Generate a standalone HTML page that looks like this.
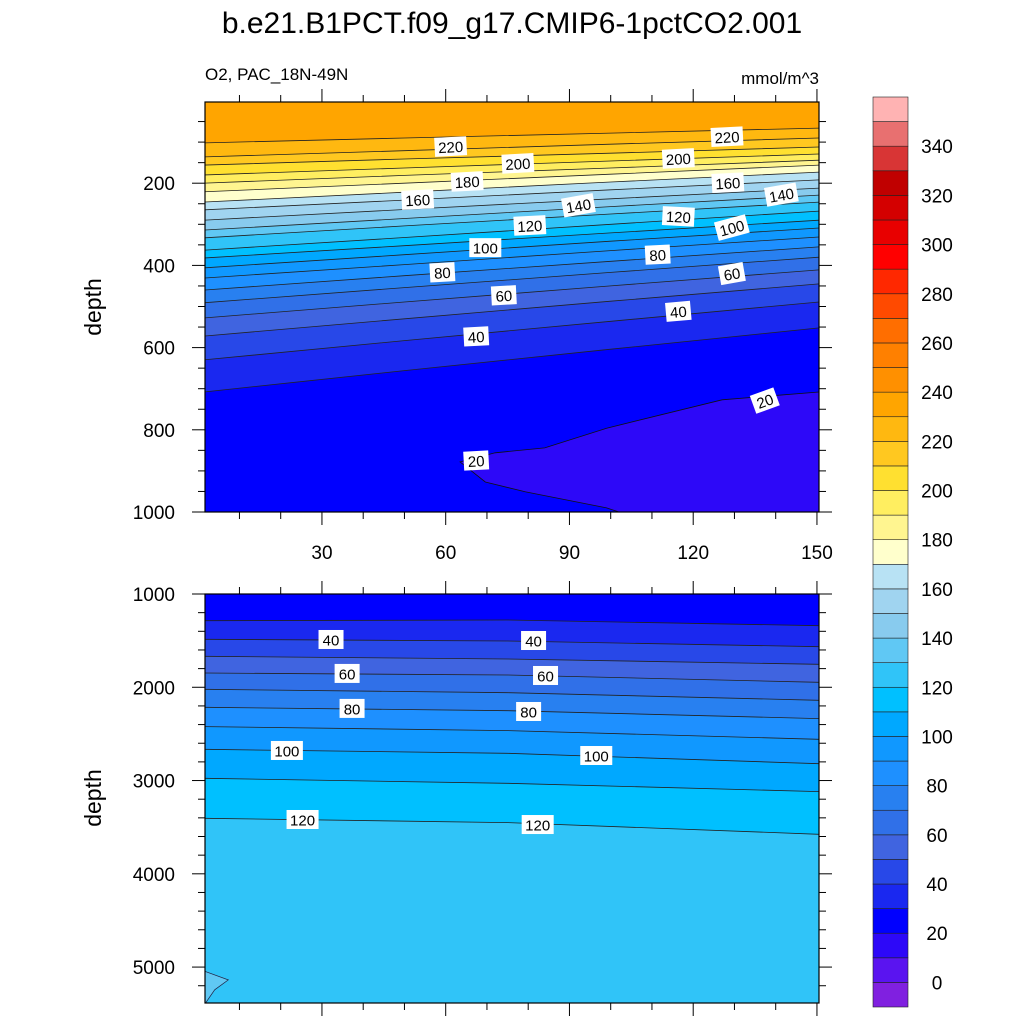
<!DOCTYPE html>
<html><head><meta charset="utf-8"><style>
html,body{margin:0;padding:0;background:#fff;}
svg{display:block;font-family:"Liberation Sans",sans-serif;}
</style></head><body>
<svg id="chart" width="1024" height="1024" viewBox="0 0 1024 1024" xmlns="http://www.w3.org/2000/svg">
<text x="512" y="33" font-size="30" text-anchor="middle">b.e21.B1PCT.f09_g17.CMIP6-1pctCO2.001</text>
<text x="205" y="80" font-size="17">O2, PAC_18N-49N</text>
<text x="819" y="84" font-size="17" text-anchor="end">mmol/m^3</text>
<text transform="translate(101,307) rotate(-90)" font-size="23" text-anchor="middle">depth</text>
<text transform="translate(101,798) rotate(-90)" font-size="23" text-anchor="middle">depth</text>
<g id="topPanel"></g>
<g id="botPanel"></g>
<g id="cbar"></g>
</svg>
<script>
// ---- data ----
const bandLevels = [-10,0,10,20,30,40,50,60,70,80,90,100,110,120,130,140,150,160,170,180,190,200,210,220,230,240,250,260,270,280,290,300,310,320,330,340,350];
const bandColors = ["#8020e0","#5a14f0","#2d08f8","#0000ff","#1a28f0","#2848e8","#4064e0","#3070e8","#2880f0","#1e90ff","#1098ff","#00a8ff","#00c0ff","#30c4f8","#60c8f4","#88cbee","#a0d4f0","#b8e2f4","#ffffcc","#fff590","#ffee60","#ffe030","#ffc820","#ffb810","#ffa500","#ff9000","#ff8000","#ff6e00","#ff4a00","#ff2800","#ff0000","#e80000","#d40000","#c00000","#d83535","#e87070","#ffb3b3"];
const cbarTicks = [0,20,40,60,80,100,120,140,160,180,200,220,240,260,280,300,320,340];

const topX = [1.3, 50, 100, 150.5];
const topLevels = [30,40,50,60,70,80,90,100,110,120,130,140,150,160,170,180,190,200,210,220,230];
const topDepths = [
 [708,656,604,552],[630,583,536,489],[572,530,487,445],[528,489,450,411],[491,454,417,380],
 [460,425,390,355],[431,398,364,331],[406,374,341,309],[382,352,321,290],[363,332,300,268],
 [333,304,275,246],[314,286,257,229],[290,264,238,212],[265,241,216,192],[246,222,197,173],
 [221,200,178,156],[200,181,163,144],[180,163,146,129],[156,141,127,112],[136,121,105,90],
 [102,90,78,66]];
const lowRegionX = [150.5,127,99,84,72,63.5,69.6,79.4,99,102,150.5];
const lowRegionD = [708,727,796,844,856,878,927,951,990,1000,1000];
const topLabelVals = [220,200,180,160,140,120,100,80,60,40,20,220,200,160,140,120,100,80,60,40,20];
const topLabelX = [61.2,77.5,65.2,53.2,92.2,80.4,69.6,59.2,74.1,67.4,67.4,128.2,116.4,128.4,141.4,116.4,129.4,111.4,129.4,116.4,137.4];
const topLabelD = [112,153,197,241,255,304,358,418,474,574,876,88,141,200,229,282,309,375,421,513,730];
const topLabelRot = [-3,-3,-3,-3,-10,-3,0,-3,-3,-3,-3,-3,-3,-3,-10,3,-15,-3,-10,-5,-20];
const topYTicks = [200,400,600,800,1000];
const xTicks = [30,60,90,120,150];

const botX = [1.3, 75, 150.5];
const botLevels = [120,110,100,90,80,70,60,50,40,30];
const botDepths = [[3405,3451,3576],[2976,3030,3119],[2665,2708,2819],[2422,2465,2558],[2215,2251,2336],
 [2022,2058,2140],[1847,1868,1947],[1668,1697,1754],[1486,1504,1565],[1286,1279,1340]];
const cornerX = [1.3,7.3,4.0,1.8,1.3];
const cornerD = [5041,5137,5244,5385,5385];
const botLabelVals = [40,40,60,60,80,80,100,100,120,120];
const botLabelX = [32.2,81.3,36.1,84.2,37.3,80.1,21.5,96.5,25.3,82.3];
const botLabelD = [1493,1504,1857,1879,2232,2265,2683,2737,3423,3477];
const botYTicks = [1000,2000,3000,4000,5000];

// ---- helpers ----
const NS="http://www.w3.org/2000/svg";
function mk(tag, attrs, parent){const e=document.createElementNS(NS,tag);for(const k in attrs)e.setAttribute(k,attrs[k]);parent.appendChild(e);return e;}
function colorFor(lo){return bandColors[bandLevels.indexOf(lo)];}
const X0=205, X1=819;
const xs = v => 198.2 + 4.125*v;
const topY = d => 101 + d*0.411;
const botY = d => 594 + (d-1000)*0.09327;
const TY0=102, TY1=512, BY0=594, BY1=1003;

function panel(g, y0, y1, name){
  const cid = name+'-clip';
  const defs = mk('defs',{},g);
  const cp = mk('clipPath',{id:cid},defs);
  mk('rect',{x:X0,y:y0,width:X1-X0,height:y1-y0},cp);
  return mk('g',{'clip-path':'url(#'+cid+')'},g);
}
function linePts(xArr, dArr, yfun){ return xArr.map((x,i)=>xs(x).toFixed(1)+','+yfun(dArr[i]).toFixed(1)); }

// ---- top panel ----
const topG=document.getElementById('topPanel');
const ti=panel(topG,TY0,TY1,'top');
let r=mk('rect',{x:X0,y:TY0,width:X1-X0,height:TY1-TY0,fill:colorFor(20)},ti);


topLevels.forEach((L,i)=>{
  const d=topDepths[i];
  const pts=linePts(topX,d,topY);
  const p=mk('polygon',{points:[(X0-5)+','+(TY0-5),(X0-5)+','+topY(d[0])].concat(pts).concat([(X1+5)+','+topY(d[d.length-1]),(X1+5)+','+(TY0-5)]).join(' '),fill:colorFor(L)},ti);
  
  
});
let lr=mk('polygon',{points:linePts(lowRegionX,lowRegionD,topY).join(' '),fill:colorFor(10),stroke:'#111','stroke-width':0.8},ti);


topLevels.forEach((L,i)=>{
  const d=topDepths[i];
  const l=mk('polyline',{points:[(X0-5)+','+topY(d[0])].concat(linePts(topX,d,topY)).concat([(X1+5)+','+topY(d[d.length-1])]).join(' '),fill:'none',stroke:'#222','stroke-width':0.8},ti);
  
  
});
topLabelVals.forEach((v,i)=>{
  const cx=xs(topLabelX[i]), cy=topY(topLabelD[i]);
  const w=v>=100?32:25;
  const g=mk('g',{transform:`translate(${cx},${cy}) rotate(${topLabelRot[i]})`},ti);
  
  
  mk('rect',{x:-w/2,y:-10,width:w,height:19,fill:'#fff'},g);
  const t=mk('text',{x:0,y:5.5,'font-size':15,'text-anchor':'middle'},g); t.textContent=v;
});
let fr=mk('rect',{x:X0,y:TY0,width:X1-X0,height:TY1-TY0,fill:'none',stroke:'#000','stroke-width':1.2},topG);



function axesTicks(g, y0, y1, yfun, majors, minorStep, dmin, dmax, labelsX){
  const tg=mk('g',{stroke:'#000','stroke-width':1},g);
  for(let v=10; v<=150; v+=10){
    const x=xs(v); if(x<X0||x>X1+1) continue;
    const len = (v%30===0)?13:7;
    mk('line',{x1:x,y1:y1,x2:x,y2:y1+len},tg);
    mk('line',{x1:x,y1:y0,x2:x,y2:y0-len},tg);
  }
  for(let d=Math.ceil(dmin/minorStep)*minorStep; d<=dmax; d+=minorStep){
    const y=yfun(d); if(y<y0-0.5||y>y1+0.5) continue;
    const len = majors.includes(d)?13:7;
    mk('line',{x1:X0,y1:y,x2:X0-len,y2:y},tg);
    mk('line',{x1:X1,y1:y,x2:X1+len,y2:y},tg);
  }
  majors.forEach(d=>{
    const t=mk('text',{x:175,y:yfun(d)+7,'font-size':19,'text-anchor':'end'},g);
    
    
    t.textContent=d;
  });
  if(labelsX){
    xTicks.forEach(v=>{
      const t=mk('text',{x:xs(v),y:y1+47,'font-size':19,'text-anchor':'middle'},g);
      
      
      t.textContent=v;
    });
  }
}
axesTicks(topG,TY0,TY1,topY,topYTicks,50,0,1000,true);

// ---- bottom panel ----
const botG=document.getElementById('botPanel');
const bi=panel(botG,BY0,BY1,'bot');
let br=mk('rect',{x:X0,y:BY0,width:X1-X0,height:BY1-BY0,fill:colorFor(120)},bi);


botLevels.forEach((L,i)=>{
  const d=botDepths[i];
  const pts=linePts(botX,d,botY);
  const p=mk('polygon',{points:[(X0-5)+','+(BY0-5),(X0-5)+','+botY(d[0])].concat(pts).concat([(X1+5)+','+botY(d[d.length-1]),(X1+5)+','+(BY0-5)]).join(' '),fill:colorFor(L-10)},bi);
  
  
});
botLevels.forEach((L,i)=>{
  const d=botDepths[i];
  const l=mk('polyline',{points:[(X0-5)+','+botY(d[0])].concat(linePts(botX,d,botY)).concat([(X1+5)+','+botY(d[d.length-1])]).join(' '),fill:'none',stroke:'#222','stroke-width':0.8},bi);
  
  
});
let cr=mk('polygon',{points:linePts(cornerX,cornerD,botY).join(' '),fill:colorFor(130),stroke:'#224','stroke-width':0.7},bi);


botLabelVals.forEach((v,i)=>{
  const cx=xs(botLabelX[i]), cy=botY(botLabelD[i]);
  const w=v>=100?32:25;
  const g=mk('g',{transform:`translate(${cx},${cy})`},bi);
  
  
  mk('rect',{x:-w/2,y:-10,width:w,height:19,fill:'#fff'},g);
  const t=mk('text',{x:0,y:5.5,'font-size':15,'text-anchor':'middle'},g); t.textContent=v;
});
let bfr=mk('rect',{x:X0,y:BY0,width:X1-X0,height:BY1-BY0,fill:'none',stroke:'#000','stroke-width':1.2},botG);


axesTicks(botG,BY0,BY1,botY,botYTicks,200,1000,5400,false);

// ---- colorbar ----
const cb=document.getElementById('cbar');
const CX=873, CW=35, CB0=1007, step=910/37;
const cbY = v => CB0 - (v+10)/10*step;
bandLevels.forEach((lo,i)=>{
  const b=mk('rect',{x:CX,y:cbY(lo+10),width:CW,height:step,fill:bandColors[i],stroke:'#222','stroke-width':0.6},cb);
  
  
});
cbarTicks.forEach(v=>{
  const t=mk('text',{x:937,y:cbY(v)+7,'font-size':19,'text-anchor':'middle'},cb);
  
  
  t.textContent=v;
});
</script>
</body></html>
